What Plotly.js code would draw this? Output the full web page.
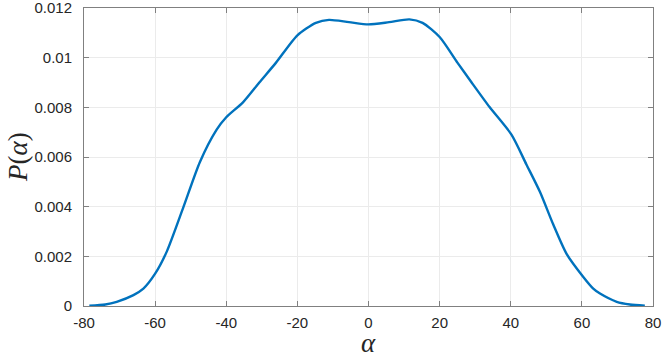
<!DOCTYPE html>
<html>
<head>
<meta charset="utf-8">
<script src="https://cdn.plot.ly/plotly-3.0.1.min.js"></script>
<style>
  html, body { margin: 0; padding: 0; background: #fff; }
  #chart { width: 664px; height: 357px; }
</style>
</head>
<body>
<div id="chart"></div>
<script>
// alpha values (deg) and estimated density
var alpha = [-78.5, -74, -70.8, -66.1, -63.3, -60, -56.7, -52, -47.4, -42.7, -40, -35.3, -30.7,
  -26, -20, -14.8, -11.1, -5.5, 0, 5.8, 11.5, 15.2, 20, 25,
  29, 34.1, 40.2, 44.4, 48.2, 51.9, 55.7, 60.4, 63.2, 65.1, 69.8, 73.5, 77.7];
var density = [0.00001, 0.00006, 0.00017, 0.00044, 0.0007, 0.0013, 0.0022, 0.0040, 0.0058, 0.0071, 0.0076, 0.0082, 0.0090,
  0.0098, 0.0109, 0.0114, 0.01152, 0.01143, 0.01134, 0.01143, 0.01154, 0.0114, 0.01083, 0.0098,
  0.0090, 0.0080, 0.0069, 0.0057, 0.0046, 0.0033, 0.0021, 0.00117, 0.0007, 0.0005, 0.00017, 0.00006, 0.00001];

var xTicks = [-80, -60, -40, -20, 0, 20, 40, 60, 80];
var xTickText = ['-80', '-60', '-40', '-20', '0', '20', '40', '60', '80'];
var yTicks = [0, 0.002, 0.004, 0.006, 0.008, 0.01, 0.012];
var yTickText = ['0', '0.002', '0.004', '0.006', '0.008', '0.01', '0.012'];

var trace = {
  x: alpha,
  y: density,
  type: 'scatter',
  mode: 'lines',
  line: { color: '#0072BD', width: 2.4, shape: 'spline', smoothing: 0.7 },
  hoverinfo: 'skip'
};

var tickFont = { family: 'Liberation Sans, Arial, sans-serif', size: 15, color: '#262626' };
var labelFont = { family: 'Liberation Serif, serif', size: 27, color: '#262626' };

var layout = {
  width: 664,
  height: 357,
  margin: { l: 84, r: 11, t: 8, b: 51 },
  paper_bgcolor: '#ffffff',
  plot_bgcolor: '#ffffff',
  showlegend: false,
  xaxis: {
    range: [-80, 80],
    tickvals: xTicks,
    ticktext: xTickText,
    ticks: 'inside',
    ticklen: 5,
    tickcolor: '#808080',
    showline: true,
    linecolor: '#808080',
    linewidth: 1,
    mirror: 'ticks',
    showgrid: true,
    gridcolor: '#ebebeb',
    zeroline: false,
    tickfont: tickFont,
    ticklabelstandoff: 3,
    ticklabeloverflow: 'allow'
  },
  yaxis: {
    range: [0, 0.012],
    tickvals: yTicks,
    ticktext: yTickText,
    ticks: 'inside',
    ticklen: 5,
    tickcolor: '#808080',
    showline: true,
    linecolor: '#808080',
    linewidth: 1,
    mirror: 'ticks',
    showgrid: true,
    gridcolor: '#ebebeb',
    zeroline: false,
    tickfont: tickFont,
    ticklabelstandoff: 8,
    ticklabeloverflow: 'allow'
  },
  annotations: [
    { text: '<i>α</i>', xref: 'paper', yref: 'paper', x: 0.5, y: -0.124,
      xanchor: 'center', yanchor: 'middle', showarrow: false, font: labelFont },
    { text: '<i>P</i>(<i>α</i>)', xref: 'paper', yref: 'paper', x: -0.116, y: 0.5,
      xanchor: 'center', yanchor: 'middle', textangle: -90, showarrow: false, font: labelFont }
  ]
};

Plotly.newPlot('chart', [trace], layout, { displayModeBar: false, staticPlot: true });
</script>
</body>
</html>
